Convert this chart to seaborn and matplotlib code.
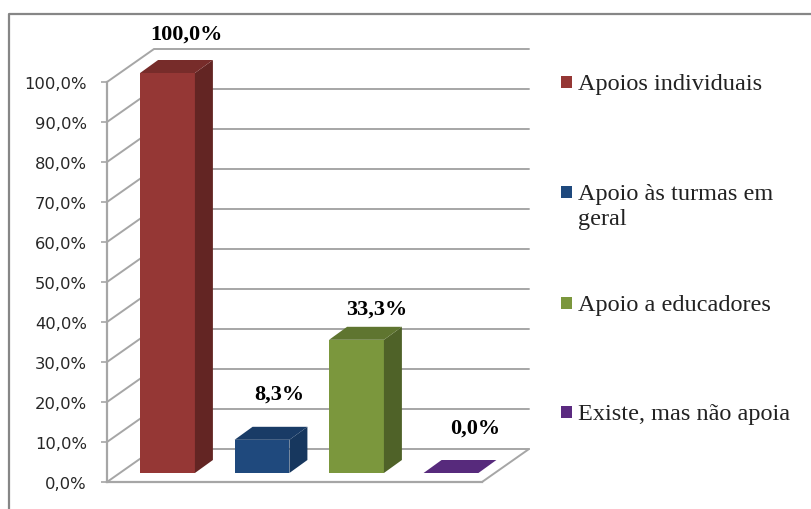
import matplotlib
matplotlib.use("Agg")
import matplotlib.pyplot as plt
from matplotlib.lines import Line2D
from matplotlib.patches import Polygon, Rectangle
import seaborn as sns

categories = ["Apoios individuais", "Apoio às turmas em\ngeral", "Apoio a educadores", "Existe, mas não apoia"]
values = [100.0, 8.3, 33.3, 0.0]
value_labels = ["100,0%", "8,3%", "33,3%", "0,0%"]
ticks = [0, 10, 20, 30, 40, 50, 60, 70, 80, 90, 100]
tick_labels = ["0,0%", "10,0%", "20,0%", "30,0%", "40,0%", "50,0%", "60,0%", "70,0%", "80,0%", "90,0%", "100,0%"]

front_colors = ["#953735", "#1F497D", "#7B973D", "#5B2A80"]
side_colors = ["#632523", "#17375E", "#4F6228", "#3F1D59"]
top_colors = ["#772C2A", "#193B66", "#5F7530", "#572A7C"]

W, H = 812, 510
GRID = "#A6A6A6"
FRAME = "#868686"

sns.set_theme(style="white")
plt.rcParams["font.family"] = ["DejaVu Sans"]

fig = plt.figure(figsize=(W / 100, H / 100), dpi=100)
ax = fig.add_axes([107 / W, 1 - 483 / H, 375 / W, 400 / H])

sns.barplot(x=categories, y=values, hue=categories, palette=front_colors, legend=False,
            width=0.58, saturation=1, linewidth=0, ax=ax)

# px -> data: one category is 94.5px, 10% is 40px
x0, x1 = (107 - 167.5) / 94.5, (482 - 167.5) / 94.5
ax.set_xlim(x0, x1)
ax.set_ylim(0, 100)
wall_dx, wall_dy = 47 / 94.5, 33 / 4
bar_dx, bar_dy = 18 / 94.5, 13 / 4
floor = 9 / 4

# back wall and side wall grid
for t in ticks:
    ax.plot([x0, x0 + wall_dx, x1 + wall_dx], [t, t + wall_dy, t + wall_dy], color=GRID,
            lw=1.4, clip_on=False, zorder=1, solid_joinstyle="miter")
ax.plot([x1, x1 + wall_dx], [0, wall_dy], color=GRID, lw=1.4, clip_on=False, zorder=1)

bars = sorted(ax.patches, key=lambda b: b.get_x())
for bar, val, side, top in zip(bars, values, side_colors, top_colors):
    bar.set_y(floor)
    bar.set_zorder(3)
    bar.set_clip_on(False)
    left = bar.get_x()
    right = left + bar.get_width()
    base = floor
    up = floor + val
    ax.add_patch(Polygon([(right, base), (right + bar_dx, base + bar_dy), (right + bar_dx, up + bar_dy), (right, up)],
                         facecolor=side, lw=0, zorder=3, clip_on=False))
    ax.add_patch(Polygon([(left, up), (left + bar_dx, up + bar_dy), (right + bar_dx, up + bar_dy), (right, up)],
                         facecolor=top, lw=0, zorder=3, clip_on=False))

# data labels, offsets from top of each bar front
label_offsets = [(19, 39), (17, 46), (20, 31), (24, 45)]
for i, (val, lab, off) in enumerate(zip(values, value_labels, label_offsets)):
    ax.annotate(lab, (i, val + floor), xytext=off, textcoords="offset pixels", ha="center", va="center",
                family="Liberation Serif", weight="bold", fontsize=16, color="black",
                annotation_clip=False, zorder=5)

sns.despine(ax=ax, top=True, right=True)
for s in ["left", "bottom"]:
    ax.spines[s].set_color(GRID)
    ax.spines[s].set_linewidth(1.6)
ax.set_xticks([])
ax.set_yticks(ticks)
ax.set_yticklabels(tick_labels, fontsize=11.8, color="#262626")
ax.tick_params(axis="y", left=True, length=4.5, width=1.2, color=GRID, pad=10)
ax.set_xlabel("")
ax.set_ylabel("")
ax.patch.set_alpha(0)

# legend, equal steps with the swatch on the first line
legend_ys = [83, 193, 304, 413]
for name, col, y in zip(categories, front_colors, legend_ys):
    fig.patches.append(Rectangle((561 / W, 1 - (y + 6) / H), 11 / W, 12 / H, transform=fig.transFigure,
                                 facecolor=col, lw=0))
    fig.text(578 / W, 1 - (y - 9) / H, name, family="Liberation Serif", fontsize=17.5, color="#222222",
             ha="left", va="top", linespacing=1.28)

# outer frame, open to the right and the bottom
fig.add_artist(Line2D([9 / W, 9 / W, 1], [0, 1 - 14.5 / H, 1 - 14.5 / H], color=FRAME, lw=1.6,
                      transform=fig.transFigure))

fig.savefig("out.png", dpi=100)
